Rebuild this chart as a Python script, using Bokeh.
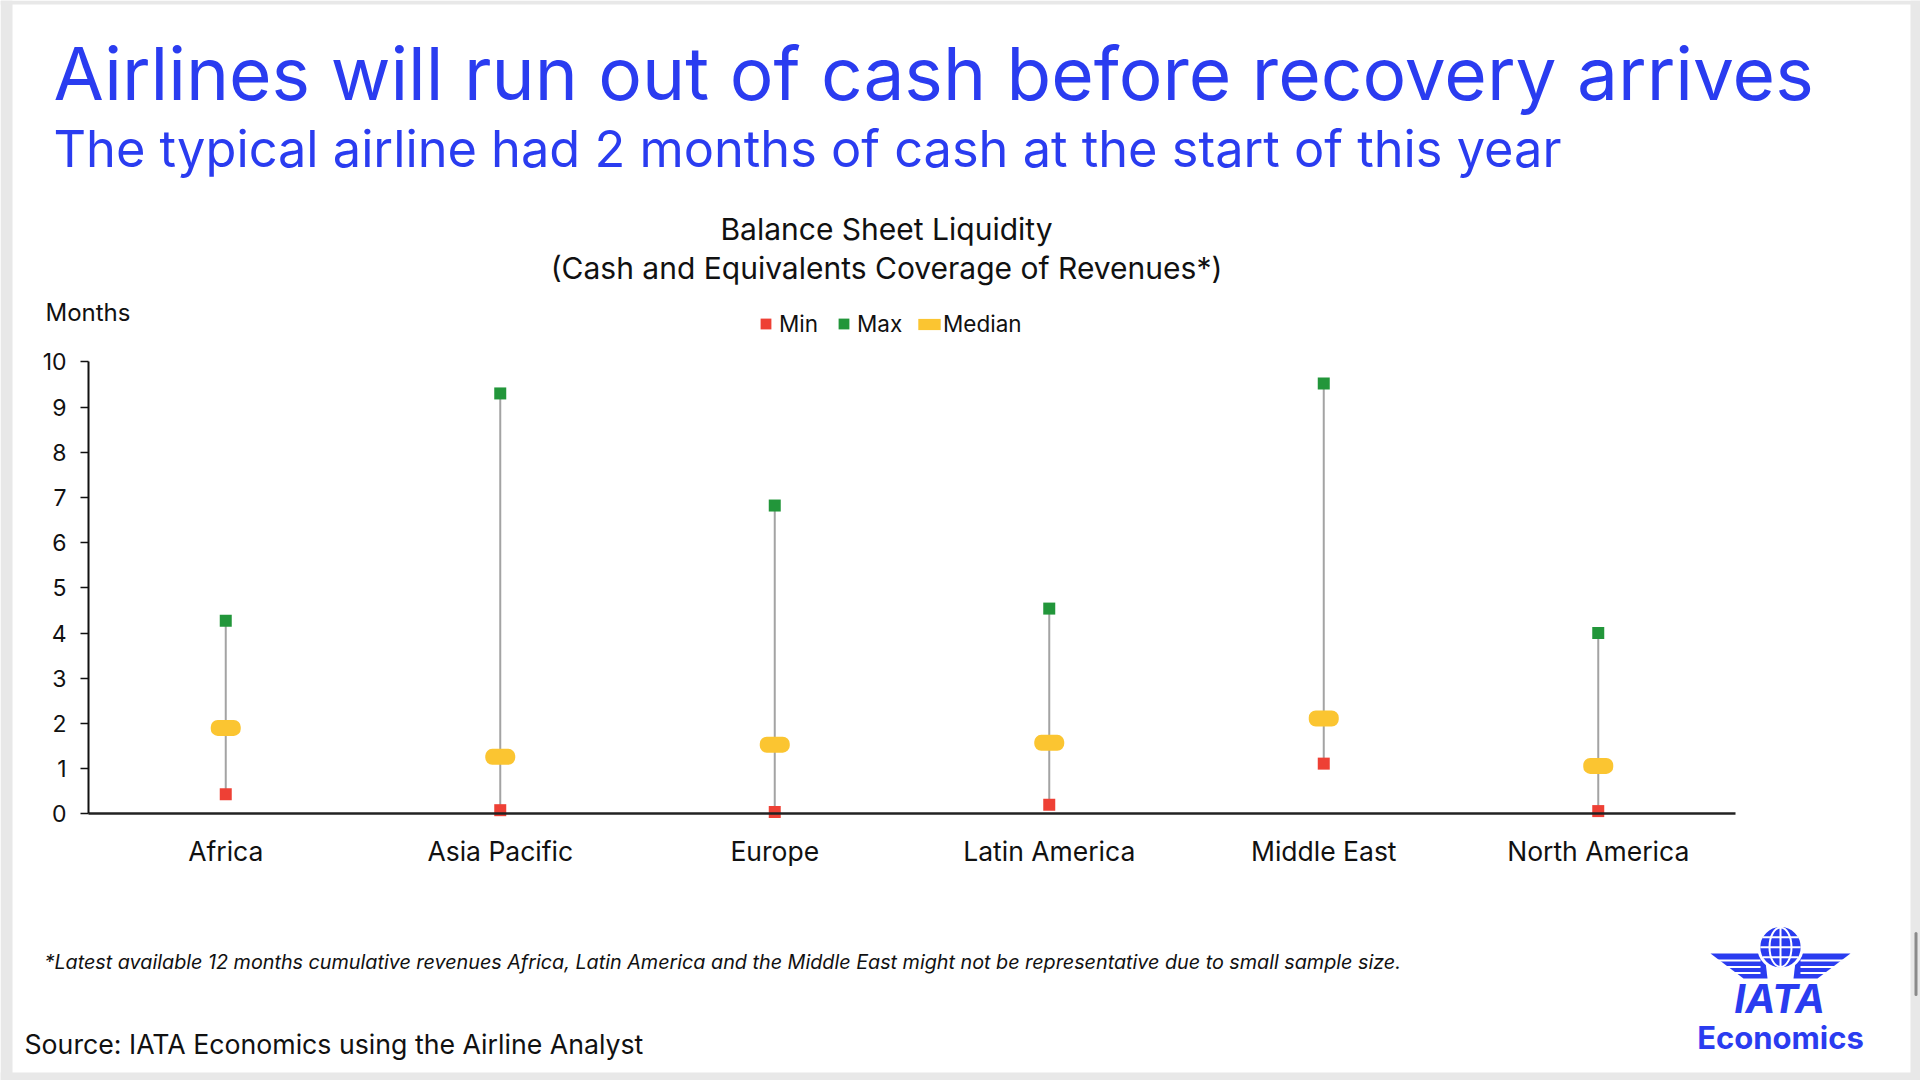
from bokeh.plotting import figure
from bokeh.models import Range1d, LinearAxis, FixedTicker, Label, Legend, LegendItem
from bokeh.embed import file_html
from bokeh.resources import INLINE

# ---------------- data ----------------
categories = ["Africa", "Asia Pacific", "Europe", "Latin America", "Middle East", "North America"]
min_vals = [0.43, 0.08, 0.04, 0.20, 1.11, 0.06]
max_vals = [4.27, 9.30, 6.82, 4.54, 9.52, 4.00]
median_vals = [1.90, 1.26, 1.53, 1.57, 2.11, 1.06]
y_ticks = [0, 1, 2, 3, 4, 5, 6, 7, 8, 9, 10]

# ---------------- geometry (page pixels) ----------------
W, H = 1920, 1080
PX0, PXU = 225.25, 274.5      # page px of first category centre, px per category
PY0, PYU = 813.3, 45.2        # page px of y=0, px per month
KB = 0.39                     # baseline correction of Label text (em)


def X(px):
    return (px - PX0) / PXU


def Y(py):
    return (PY0 - py) / PYU


BLUE = "#2a3cf0"
RED = "#ee4035"
GREEN = "#22963a"
GOLD = "#fbc531"
STEM = "#a3a3a3"
INK = "#111111"
GREY = "#e8e8e8"
FONT = "Inter"

p = figure(width=W, height=H, output_backend="svg", toolbar_location=None,
           x_range=Range1d(X(0), X(W)), y_range=Range1d(Y(H), Y(0)),
           x_axis_location=None, y_axis_location=None, min_border=0,
           background_fill_color="white", border_fill_color="white",
           outline_line_color=None)
p.grid.visible = False

xs = list(range(len(categories)))

# grey slide border + scrollbar thumb
p.quad(left=[X(0), X(1910), X(0), X(0)], right=[X(12), X(1920), X(1920), X(1920)],
       top=[Y(0), Y(0), Y(0), Y(1072)], bottom=[Y(1080), Y(1080), Y(4), Y(1080)],
       fill_color=GREY, line_color=None)
p.segment(x0=[X(1915.5)], y0=[Y(933)], x1=[X(1915.5)], y1=[Y(994)], line_color="#8a8a8a",
          line_width=3, line_cap="round")

# ---------------- axes ----------------
yaxis = LinearAxis(fixed_location=-0.5, bounds=(0, 10), ticker=FixedTicker(ticks=y_ticks),
                   axis_line_color=INK, axis_line_width=2,
                   major_tick_line_color=INK, major_tick_line_width=1.5,
                   major_tick_out=8, major_tick_in=0, minor_tick_out=0, minor_tick_in=0,
                   major_label_standoff=14, major_label_text_font=FONT,
                   major_label_text_font_size="23px", major_label_text_color=INK)
p.add_layout(yaxis, "left")

xaxis = LinearAxis(fixed_location=0, bounds=(-0.5, 5.5), ticker=FixedTicker(ticks=xs),
                   major_label_overrides={i: c for i, c in enumerate(categories)},
                   axis_line_color="#222222", axis_line_width=2.5,
                   major_tick_out=0, major_tick_in=0, minor_tick_out=0, minor_tick_in=0,
                   major_label_standoff=21, major_label_text_font=FONT,
                   major_label_text_font_size="26.5px", major_label_text_color=INK)
p.add_layout(xaxis, "below")

# ---------------- marks ----------------
p.segment(x0=xs, y0=min_vals, x1=xs, y1=max_vals, line_color=STEM, line_width=2)
r_med = p.rect(x=xs, y=median_vals, width=30, height=16, width_units="screen",
               height_units="screen", border_radius=7, fill_color=GOLD, line_color=None)
r_min = p.scatter(x=xs, y=min_vals, marker="square", size=12, fill_color=RED, line_color=None)
r_max = p.scatter(x=xs, y=max_vals, marker="square", size=12, fill_color=GREEN, line_color=None)

LEG_CY, LEG_H = 324, 27


def make_legend(label, rend, left_px, gw, gh):
    leg = Legend(items=[LegendItem(label=label, renderers=[rend])],
                 location=(left_px, H - LEG_CY - LEG_H // 2),
                 orientation="horizontal", glyph_width=gw, glyph_height=gh,
                 label_standoff=0, padding=0, margin=0, spacing=0,
                 border_line_alpha=0, background_fill_alpha=0,
                 label_text_font=FONT, label_text_font_size="22.5px",
                 label_text_color=INK)
    p.add_layout(leg)


make_legend("Min", r_min, 752, 27, 27)
make_legend("Max", r_max, 830, 27, 27)
make_legend("Median", r_med, 915, 28, 14)


# ---------------- texts ----------------
def txt(x, base, s, size, color=INK, align="left", style="normal"):
    p.add_layout(Label(x=X(x), y=Y(base - KB * size), text=s, text_font=FONT,
                       text_font_size=f"{size}px", text_color=color, text_align=align,
                       text_baseline="alphabetic", text_font_style=style))


txt(53, 101.7, "Airlines will run out of cash before recovery arrives", 73, BLUE)
txt(53, 168, "The typical airline had 2 months of cash at the start of this year", 50.5, BLUE)
txt(886, 240, "Balance Sheet Liquidity", 30, align="center")
txt(886, 279, "(Cash and Equivalents Coverage of Revenues*)", 30, align="center")
txt(45, 321, "Months", 24)
txt(44, 969, "*Latest available 12 months cumulative revenues Africa, Latin America and the Middle East "
             "might not be representative due to small sample size.", 19.75, style="italic")
txt(24, 1054, "Source: IATA Economics using the Airline Analyst", 26.7)

# ---------------- IATA logo ----------------
GX, GY, GR = 1780, 946.7, 21.7
p.patches(xs=[[X(1710), X(1764), X(1767), X(1743)], [X(1850), X(1796), X(1793), X(1817)]],
          ys=[[Y(953), Y(953), Y(978), Y(978)], [Y(953), Y(953), Y(978), Y(978)]],
          fill_color=BLUE, line_color=None)
for wy in (960, 966.5, 972.5):
    p.segment(x0=[X(1700), X(1800)], y0=[Y(wy), Y(wy)], x1=[X(1760), X(1860)], y1=[Y(wy), Y(wy)],
              line_color="white", line_width=2)
p.scatter(x=[X(GX)], y=[Y(GY)], marker="circle", size=2 * GR, fill_color=BLUE,
          line_color="white", line_width=3)
p.ellipse(x=[X(GX)], y=[Y(GY)], width=[22], height=[2 * GR - 4], width_units="screen",
          height_units="screen", fill_color=None, line_color="white", line_width=2)
p.segment(x0=[X(GX)], y0=[Y(GY - GR + 2)], x1=[X(GX)], y1=[Y(GY + GR - 2)],
          line_color="white", line_width=2)
for dy in (-10, 0, 10):
    hw = (GR ** 2 - dy ** 2) ** 0.5 - 1.5
    p.segment(x0=[X(GX - hw)], y0=[Y(GY + dy)], x1=[X(GX + hw)], y1=[Y(GY + dy)],
              line_color="white", line_width=2)
txt(1779, 1014, "IATA", 40, BLUE, align="center", style="bold italic")
txt(1780, 1049.5, "Economics", 31, BLUE, align="center", style="bold")

open("out.html", "w").write(file_html(p, INLINE))
